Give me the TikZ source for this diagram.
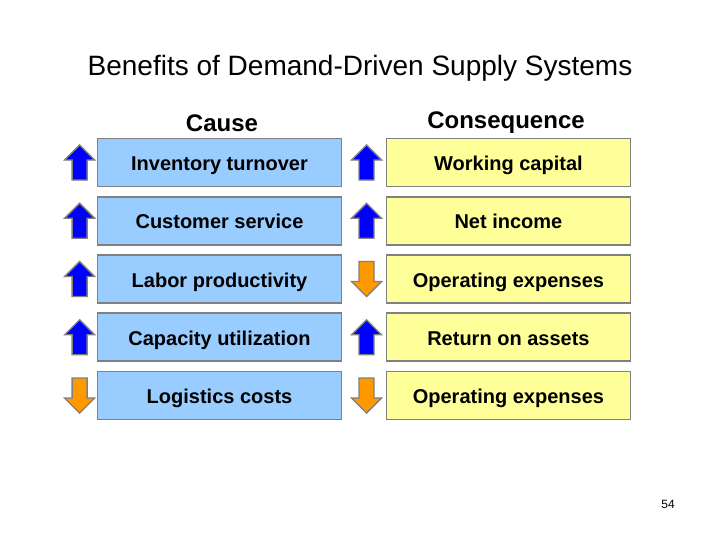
\documentclass[tikz,border=0pt]{standalone}
\usepackage{fontspec}
\setmainfont{Liberation Sans}
\usetikzlibrary{positioning}

\definecolor{causeblue}{HTML}{99CCFF}
\definecolor{consyellow}{HTML}{FFFF99}
\definecolor{boxgray}{HTML}{808080}
\definecolor{upblue}{HTML}{0000FF}
\definecolor{downorange}{HTML}{FF9900}

\tikzset{
  causebox/.style={draw=boxgray, line width=1.3pt, fill=causeblue,
    minimum width=183pt, minimum height=36pt, inner sep=0pt,
    text height=12pt, text depth=0pt,
    font=\fontsize{15}{18}\selectfont\bfseries},
  consbox/.style={causebox, fill=consyellow},
  head/.style={font=\fontsize{18}{21}\selectfont\bfseries},
  uparrow/.style={draw=boxgray, line width=1pt, fill=upblue, line join=miter},
  downarrow/.style={draw=boxgray, line width=1pt, fill=downorange, line join=miter}
}

\begin{document}
\begin{tikzpicture}[x=0.75pt, y=-0.75pt, node distance=6.4pt and 32.4pt]
\useasboundingbox (0,0) rectangle (720,540);

\node[font=\fontsize{21}{25}\selectfont] (title) at (360,68) {Benefits of Demand-Driven Supply Systems};

% cause column
\node[causebox] (c1) at (219.5,162.5) {Inventory turnover};
\node[causebox, below=of c1] (c2) {Customer service};
\node[causebox, below=of c2] (c3) {Labor productivity};
\node[causebox, below=of c3] (c4) {Capacity utilization};
\node[causebox, below=of c4] (c5) {Logistics costs};

% consequence column
\node[consbox, right=of c1] (k1) {Working capital};
\node[consbox, right=of c2] (k2) {Net income};
\node[consbox, right=of c3] (k3) {Operating expenses};
\node[consbox, right=of c4] (k4) {Return on assets};
\node[consbox, right=of c5] (k5) {Operating expenses};

\node[head] (cause) at (222,123) {Cause};
\node[head] (conseq) at (506,123) {Consequence};

% up and down arrows
\foreach \n/\s in {c1/12.75, c2/12.75, c3/12.75, c4/12.75, k1/14.25, k2/14.25, k4/14.25}
  \draw[uparrow] ([xshift=-\s pt]\n.west) +(0,-17.5) -- +(15,-2.5) -- +(7.5,-2.5) -- +(7.5,17.5)
    -- +(-7.5,17.5) -- +(-7.5,-2.5) -- +(-15,-2.5) -- cycle;
\foreach \n/\s in {c5/12.75, k3/14.25, k5/14.25}
  \draw[downarrow] ([xshift=-\s pt]\n.west) +(0,17.5) -- +(15,2.5) -- +(7.5,2.5) -- +(7.5,-17.5)
    -- +(-7.5,-17.5) -- +(-7.5,2.5) -- +(-15,2.5) -- cycle;

\node[font=\fontsize{9}{11}\selectfont] (page) at (668,504) {54};

\end{tikzpicture}
\end{document}
